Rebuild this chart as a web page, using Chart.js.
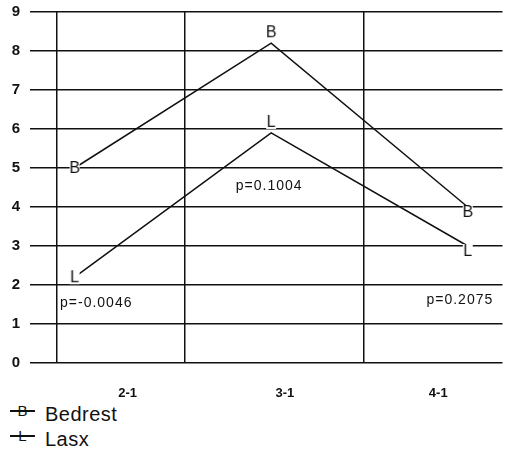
<!DOCTYPE html>
<html lang="en">
<head>
    <meta charset="UTF-8">
    <title>Bedrest vs Lasx</title>
    <style>
        body {
            margin: 0;
            padding: 0;
            background: #ffffff;
            font-family: "Liberation Sans", Arial, sans-serif;
        }
        #chart {
            display: block;
        }
        .legend {
            margin-top: 5px;
            padding-left: 10px;
        }
        .legend-item {
            display: flex;
            height: 25px;
            line-height: 25px;
            font-size: 20px;
            letter-spacing: 0.5px;
            color: #111;
        }
        .legend-sym {
            position: relative;
            width: 25px;
            height: 25px;
            margin-right: 10px;
        }
        .legend-sym::before {
            content: "";
            position: absolute;
            left: 0;
            right: 0;
            top: 8px;
            height: 1.5px;
            background: #111;
        }
        .legend-sym span {
            position: absolute;
            left: 0;
            right: 0;
            top: 1px;
            text-align: center;
            font-size: 15px;
            line-height: 1;
            letter-spacing: 0;
        }
    </style>
</head>
<body>
    <canvas id="chart" width="508" height="397"></canvas>
    <div class="legend" id="legend"></div>

    <script src="https://cdn.jsdelivr.net/npm/chart.js"></script>
    <script>
        // data
        const xLabels = ['2-1', '3-1', '4-1'];
        const xPos = [1, 2, 3];
        const bedrest = [5.0, 8.2, 4.0];
        const lasx = [2.2, 5.9, 3.0];
        const seriesNames = ['Bedrest', 'Lasx'];
        const seriesMarks = ['B', 'L'];
        const pTexts = ['p=-0.0046', 'p=0.1004', 'p=0.2075'];
        const pAt = [[1.11, 1.54], [1.99, 4.54], [2.96, 1.62]];
        const labelPos = [1.27, 2.07, 2.85];
        const dividers = [0.91, 1.56, 2.47];

        const xMin = 0.773, xMax = 3.177;

        // letter used as point marker
        function letterMark(ch, dy) {
            const c = document.createElement('canvas');
            c.width = 14;
            c.height = 40;
            const g = c.getContext('2d');
            const cy = 20 + dy;
            g.fillStyle = '#ffffff';
            g.fillRect(2, cy - 7, 10, 14);
            g.fillStyle = '#111';
            g.font = '16px "Liberation Sans", Arial, sans-serif';
            g.textAlign = 'center';
            g.textBaseline = 'middle';
            g.fillText(ch, 7, cy + 1);
            return c;
        }

        const markShift = [0, -11, 5];

        function toPoints(vals) {
            return vals.map((v, i) => ({ x: xPos[i], y: v }));
        }

        // p-value notes
        const pNotes = {
            id: 'pNotes',
            afterDatasetsDraw(chart) {
                const ctx = chart.ctx;
                const sx = chart.scales.x, sy = chart.scales.y;
                ctx.save();
                ctx.fillStyle = '#111';
                ctx.font = '14px "Liberation Sans", Arial, sans-serif';
                ctx.letterSpacing = '1px';
                ctx.textAlign = 'center';
                ctx.textBaseline = 'middle';
                pTexts.forEach((t, i) => {
                    ctx.fillText(t, sx.getPixelForValue(pAt[i][0]), sy.getPixelForValue(pAt[i][1]));
                });
                ctx.restore();
            }
        };

        const ctx = document.getElementById('chart').getContext('2d');
        const chart = new Chart(ctx, {
            type: 'line',
            data: {
                datasets: [
                    {
                        label: seriesNames[0],
                        data: toPoints(bedrest),
                        borderColor: '#111',
                        borderWidth: 1.5,
                        pointStyle: markShift.map(d => letterMark(seriesMarks[0], d)),
                        tension: 0
                    },
                    {
                        label: seriesNames[1],
                        data: toPoints(lasx),
                        borderColor: '#111',
                        borderWidth: 1.5,
                        pointStyle: markShift.map(d => letterMark(seriesMarks[1], d)),
                        tension: 0
                    }
                ]
            },
            options: {
                responsive: false,
                animation: false,
                devicePixelRatio: 1,
                layout: {
                    padding: { top: 12, right: 0, bottom: 0, left: 0 }
                },
                plugins: {
                    legend: { display: false },
                    tooltip: { enabled: false }
                },
                scales: {
                    x: {
                        type: 'linear',
                        min: xMin,
                        max: xMax,
                        position: 'bottom',
                        afterBuildTicks: s => { s.ticks = dividers.map(v => ({ value: v })); },
                        ticks: { display: false },
                        grid: { color: '#111', lineWidth: 1.5, drawTicks: false },
                        border: { display: false },
                        afterFit: s => { s.height = 0; }
                    },
                    x2: {
                        type: 'linear',
                        min: xMin,
                        max: xMax,
                        position: 'bottom',
                        afterBuildTicks: s => { s.ticks = labelPos.map(v => ({ value: v })); },
                        ticks: {
                            callback: (v, i) => xLabels[i],
                            color: '#111',
                            font: { family: '"Liberation Sans", Arial, sans-serif', size: 13, weight: 'bold' },
                            padding: 23,
                            maxRotation: 0,
                            autoSkip: false
                        },
                        grid: { display: false, drawTicks: false },
                        border: { display: false },
                        afterFit: s => { s.height = 34; }
                    },
                    y: {
                        min: 0,
                        max: 9,
                        ticks: {
                            stepSize: 1,
                            color: '#111',
                            font: { family: '"Liberation Sans", Arial, sans-serif', size: 15, weight: 'bold' },
                            padding: 10
                        },
                        grid: { color: '#111', lineWidth: 1.5, drawTicks: false },
                        border: { display: false },
                        afterFit: s => { s.width = 30; s.paddingTop = 0; s.paddingBottom = 0; }
                    }
                }
            },
            plugins: [pNotes]
        });

        // legend below the chart
        const legend = document.getElementById('legend');
        seriesNames.forEach((name, i) => {
            const row = document.createElement('div');
            row.className = 'legend-item';
            const sym = document.createElement('div');
            sym.className = 'legend-sym';
            const letter = document.createElement('span');
            letter.textContent = seriesMarks[i];
            sym.appendChild(letter);
            row.appendChild(sym);
            row.appendChild(document.createTextNode(name));
            legend.appendChild(row);
        });
    </script>
</body>
</html>
